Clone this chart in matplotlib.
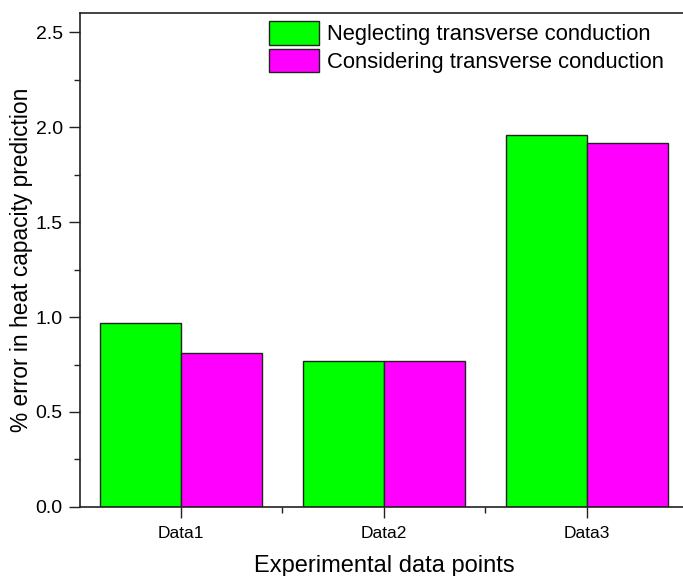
import matplotlib
matplotlib.use("Agg")
import matplotlib.pyplot as plt
import numpy as np
from matplotlib.ticker import MultipleLocator, FixedLocator, FormatStrFormatter

plt.rcParams['font.family'] = ['Liberation Sans', 'DejaVu Sans']

categories = ["Data1", "Data2", "Data3"]
neglecting = [0.968, 0.770, 1.958]
considering = [0.810, 0.767, 1.916]
series_labels = ["Neglecting transverse conduction", "Considering transverse conduction"]

fig = plt.figure(figsize=(6.83, 5.76), dpi=100)
ax = fig.add_axes([0.1164, 0.1198, 0.8916, 0.8576])

x = np.arange(1, len(categories) + 1)
w = 0.4
ax.bar(x - w / 2, neglecting, width=w, color="#00FF00", edgecolor="#222222",
       linewidth=1.0, label=series_labels[0])
ax.bar(x + w / 2, considering, width=w, color="#FF00FF", edgecolor="#222222",
       linewidth=1.0, label=series_labels[1])

ax.set_xlim(0.5, 3.5)
ax.set_ylim(0, 2.6)
ax.set_xticks(x)
ax.set_xticklabels(categories)
ax.xaxis.set_minor_locator(FixedLocator([1.5, 2.5]))
ax.yaxis.set_major_locator(MultipleLocator(0.5))
ax.yaxis.set_minor_locator(MultipleLocator(0.25))
ax.yaxis.set_major_formatter(FormatStrFormatter('%.1f'))

ax.tick_params(axis='both', which='major', direction='out', length=8, width=1.0,
               color='#222222')
ax.tick_params(axis='both', which='minor', direction='out', length=4, width=1.0,
               color='#222222')
ax.tick_params(axis='x', labelsize=12.5, pad=6)
ax.tick_params(axis='y', labelsize=14, pad=4)
for s in ax.spines.values():
    s.set_linewidth(1.2)
    s.set_color('#222222')

ax.set_xlabel("Experimental data points", fontsize=17, labelpad=10)
ax.set_ylabel("% error in heat capacity prediction", fontsize=16.4, labelpad=2)

ax.legend(loc='upper left', bbox_to_anchor=(269 / 683, 1 - 21 / 576),
          bbox_transform=fig.transFigure, frameon=False,
          fontsize=15.8, handlelength=2.28, handleheight=1.28, labelspacing=0.16,
          handletextpad=0.37, borderpad=0.0, borderaxespad=0.0)

fig.savefig("out.png", dpi=100)
